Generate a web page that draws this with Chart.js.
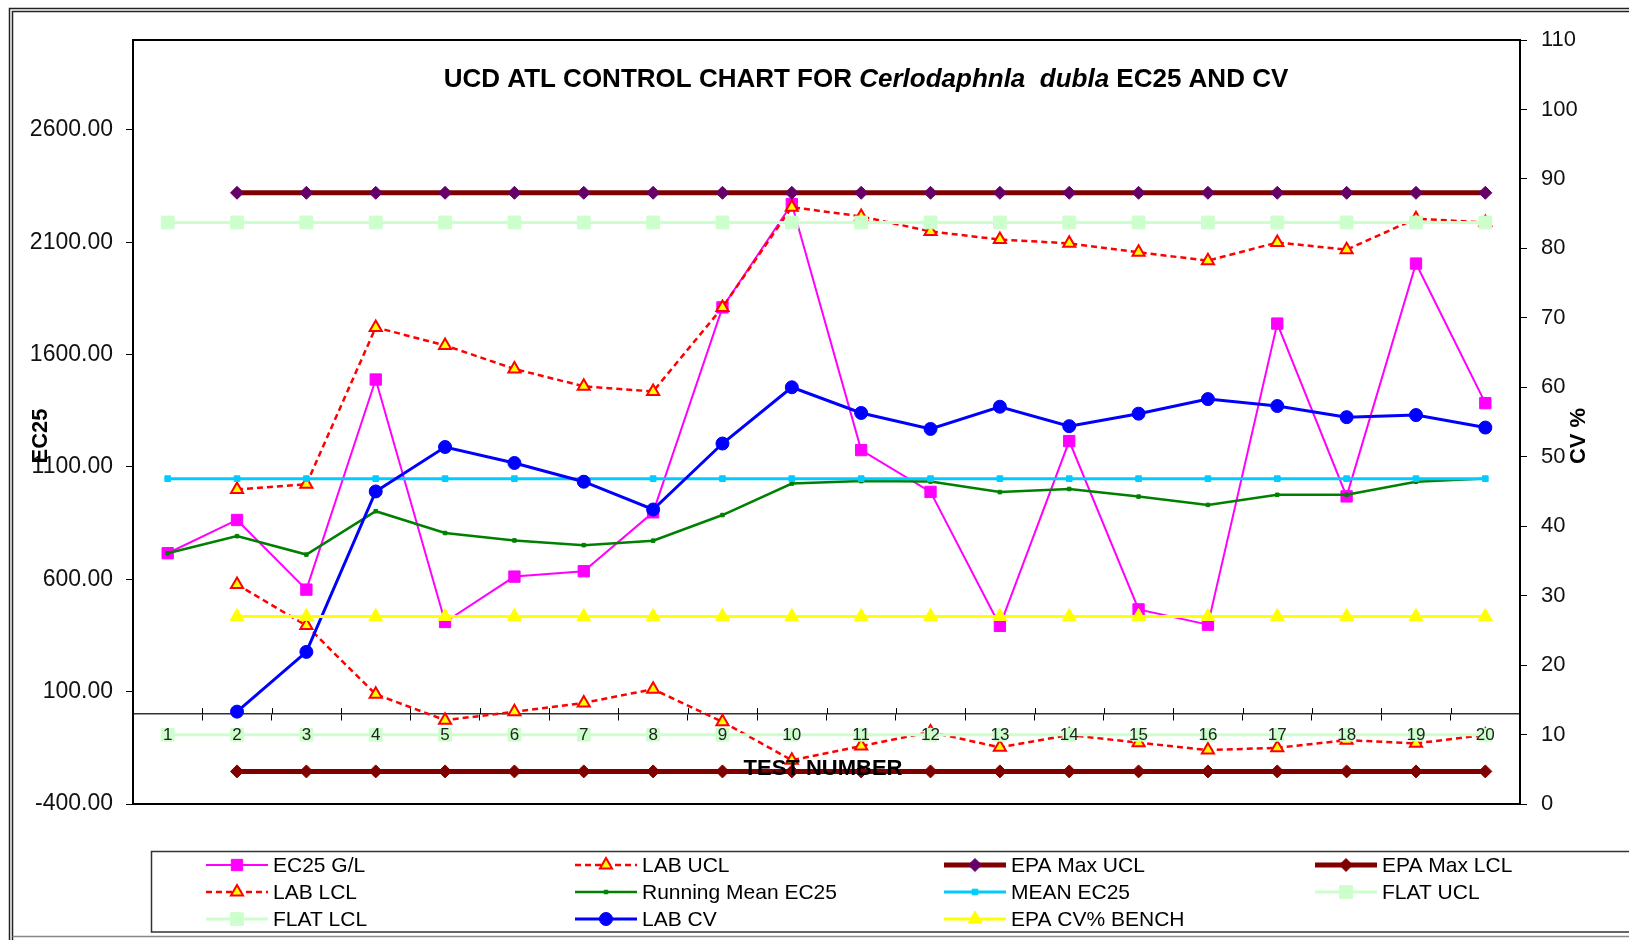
<!DOCTYPE html>
<html>
<head>
<meta charset="utf-8">
<title>UCD ATL Control Chart - Ceriodaphnia dubia EC25 and CV</title>
<script src="https://cdn.jsdelivr.net/npm/chart.js@4.4.0/dist/chart.umd.min.js"></script>
<style>
    html, body { margin: 0; padding: 0; background: #fff; }
    #wrap { position: relative; width: 1629px; height: 940px; }
</style>
</head>
<body>
<div id="wrap"><canvas id="chart"></canvas></div>
<script>
// Test numbers (x categories)
const testNumbers = ['1', '2', '3', '4', '5', '6', '7', '8', '9', '10',
                     '11', '12', '13', '14', '15', '16', '17', '18', '19', '20'];

// EC25 axis series (left axis)
const ec25 = [716, 864, 554, 1489, 410, 612, 636, 898, 1810, 2270,
              1175, 989, 393, 1215, 466, 398, 1738, 969, 2005, 1384];
const labUcl = [null, 1000, 1023, 1721, 1641, 1536, 1459, 1436, 1810, 2256,
                2215, 2148, 2112, 2095, 2055, 2018, 2099, 2067, 2205, 2188];
const labLcl = [null, 577, 394, 88, -27, 10, 50, 111, -34, -205,
                -142, -80, -148, -93, -127, -160, -150, -116, -130, -93];
const runningMean = [716, 792, 710, 903, 806, 773, 752, 772, 886, 1026,
                     1037, 1035, 988, 1002, 968, 931, 976, 976, 1034, 1048];
const meanEc25 = [1048, 1048, 1048, 1048, 1048, 1048, 1048, 1048, 1048, 1048,
                  1048, 1048, 1048, 1048, 1048, 1048, 1048, 1048, 1048, 1048];
const epaMaxUcl = [null, 2320, 2320, 2320, 2320, 2320, 2320, 2320, 2320, 2320,
                   2320, 2320, 2320, 2320, 2320, 2320, 2320, 2320, 2320, 2320];
const epaMaxLcl = [null, -255, -255, -255, -255, -255, -255, -255, -255, -255,
                   -255, -255, -255, -255, -255, -255, -255, -255, -255, -255];
const flatUcl = [2188, 2188, 2188, 2188, 2188, 2188, 2188, 2188, 2188, 2188,
                 2188, 2188, 2188, 2188, 2188, 2188, 2188, 2188, 2188, 2188];
const flatLcl = [-92, -92, -92, -92, -92, -92, -92, -92, -92, -92,
                 -92, -92, -92, -92, -92, -92, -92, -92, -92, -92];

// CV % axis series (right axis)
const labCv = [null, 13.3, 21.9, 45.0, 51.4, 49.1, 46.4, 42.4, 51.9, 60.0,
               56.3, 54.0, 57.2, 54.4, 56.2, 58.3, 57.3, 55.7, 56.0, 54.2];
const epaCvBench = [null, 27, 27, 27, 27, 27, 27, 27, 27, 27,
                    27, 27, 27, 27, 27, 27, 27, 27, 27, 27];

// Tick values
const ec25Ticks = [-400, 100, 600, 1100, 1600, 2100, 2600];
const cvMin = 0, cvMax = 110, cvStep = 10;

const FONT = "'Liberation Sans', Arial, sans-serif";
Chart.defaults.font.family = FONT;
Chart.defaults.color = '#111';

function lineSet(label, data, opts) {
    return Object.assign({
        label: label,
        data: data,
        yAxisID: 'y',
        fill: false,
        tension: 0,
        pointBorderWidth: 1
    }, opts);
}

const datasets = [
    lineSet('EC25 G/L', ec25, {
        borderColor: '#ff00ff', borderWidth: 2,
        pointStyle: 'rect', pointRadius: 8,
        pointBackgroundColor: '#ff00ff', pointBorderColor: '#ff00ff'
    }),
    lineSet('LAB UCL', labUcl, {
        borderColor: '#ff0000', borderWidth: 2.5, borderDash: [6, 4],
        pointStyle: 'triangle', pointRadius: 7,
        pointBackgroundColor: '#ffff00', pointBorderColor: '#ff0000', pointBorderWidth: 2
    }),
    lineSet('EPA Max UCL', epaMaxUcl, {
        borderColor: '#800000', borderWidth: 5,
        pointStyle: 'rectRot', pointRadius: 6.5,
        pointBackgroundColor: '#660066', pointBorderColor: '#660066'
    }),
    lineSet('EPA Max LCL', epaMaxLcl, {
        borderColor: '#800000', borderWidth: 5,
        pointStyle: 'rectRot', pointRadius: 6.5,
        pointBackgroundColor: '#800000', pointBorderColor: '#800000'
    }),
    lineSet('LAB LCL', labLcl, {
        borderColor: '#ff0000', borderWidth: 2.5, borderDash: [6, 4],
        pointStyle: 'triangle', pointRadius: 7,
        pointBackgroundColor: '#ffff00', pointBorderColor: '#ff0000', pointBorderWidth: 2
    }),
    lineSet('Running Mean EC25', runningMean, {
        borderColor: '#008000', borderWidth: 2.5,
        pointStyle: 'rect', pointRadius: 2.5,
        pointBackgroundColor: '#008000', pointBorderColor: '#008000'
    }),
    lineSet('MEAN EC25', meanEc25, {
        borderColor: '#00ccff', borderWidth: 3,
        pointStyle: 'rect', pointRadius: 4,
        pointBackgroundColor: '#00ccff', pointBorderColor: '#00ccff'
    }),
    lineSet('FLAT UCL', flatUcl, {
        borderColor: '#ccffcc', borderWidth: 3,
        pointStyle: 'rect', pointRadius: 9,
        pointBackgroundColor: '#ccffcc', pointBorderColor: '#ccffcc'
    }),
    lineSet('FLAT LCL', flatLcl, {
        borderColor: '#ccffcc', borderWidth: 3,
        pointStyle: 'rect', pointRadius: 9,
        pointBackgroundColor: '#ccffcc', pointBorderColor: '#ccffcc'
    }),
    lineSet('LAB CV', labCv, {
        yAxisID: 'y1',
        borderColor: '#0000ff', borderWidth: 3,
        pointStyle: 'circle', pointRadius: 6.5,
        pointBackgroundColor: '#0000ff', pointBorderColor: '#0000ff'
    }),
    lineSet('EPA CV% BENCH', epaCvBench, {
        yAxisID: 'y1',
        borderColor: '#ffff00', borderWidth: 3,
        pointStyle: 'triangle', pointRadius: 8,
        pointBackgroundColor: '#ffff00', pointBorderColor: '#ffff00'
    })
];
// later series are drawn on top, like the original
datasets.forEach((ds, i) => { ds.order = datasets.length - i; });

// Legend layout (4 columns, row-major)
const legendCols = [206, 575, 944, 1315];
const legendRows = [865, 892, 919];

function drawMarker(ctx, ds, x, y) {
    ctx.save();
    ctx.setLineDash([]);
    ctx.fillStyle = ds.pointBackgroundColor;
    ctx.strokeStyle = ds.pointBorderColor;
    ctx.lineWidth = ds.pointBorderWidth;
    Chart.helpers.drawPoint(ctx, {
        pointStyle: ds.pointStyle,
        radius: ds.pointRadius,
        rotation: 0,
        borderWidth: ds.pointBorderWidth
    }, x, y);
    ctx.restore();
}

const decorPlugin = {
    id: 'decor',
    beforeDraw(chart) {
        const ctx = chart.ctx;
        ctx.save();
        ctx.fillStyle = '#fff';
        ctx.fillRect(0, 0, chart.width, chart.height);
        // outer double border
        ctx.strokeStyle = '#222';
        ctx.lineWidth = 1.5;
        ctx.beginPath();
        ctx.moveTo(9.5, 940); ctx.lineTo(9.5, 8.5); ctx.lineTo(1629, 8.5);
        ctx.moveTo(12.5, 940); ctx.lineTo(12.5, 11.5); ctx.lineTo(1629, 11.5);
        ctx.stroke();
        ctx.strokeStyle = '#888';
        ctx.beginPath();
        ctx.moveTo(12.5, 936.5); ctx.lineTo(1629, 936.5);
        ctx.stroke();
        ctx.restore();
    },
    beforeDatasetsDraw(chart) {
        const {ctx, chartArea: a} = chart;
        ctx.save();
        ctx.strokeStyle = '#000';
        ctx.lineWidth = 2;
        ctx.strokeRect(a.left, a.top, a.right - a.left, a.bottom - a.top);
        // upper half of the category tick marks (they cross the axis line)
        const xs = chart.scales.x;
        const y0 = chart.scales.y.getPixelForValue(0);
        const band = (a.right - a.left) / testNumbers.length;
        ctx.lineWidth = 1;
        ctx.beginPath();
        for (let i = 1; i < testNumbers.length; i++) {
            const px = Math.round(xs.left + i * band) + 0.5;
            ctx.moveTo(px, y0);
            ctx.lineTo(px, y0 - 6);
        }
        ctx.stroke();
        ctx.restore();
    },
    afterDatasetsDraw(chart) {
        const ctx = chart.ctx;
        ctx.save();
        ctx.fillStyle = '#000';
        ctx.font = 'bold 22px ' + FONT;
        ctx.textAlign = 'center';
        ctx.textBaseline = 'middle';
        ctx.fillText('TEST NUMBER', 823, 769);
        ctx.restore();
    },
    afterDraw(chart) {
        const ctx = chart.ctx;
        ctx.save();

        // title with italic species name
        const parts = [
            {text: 'UCD ATL CONTROL CHART FOR ', font: 'bold 26px ' + FONT},
            {text: 'Cerlodaphnla  dubla', font: 'italic bold 26px ' + FONT},
            {text: ' EC25 AND CV', font: 'bold 26px ' + FONT}
        ];
        let total = 0;
        parts.forEach(p => { ctx.font = p.font; p.w = ctx.measureText(p.text).width; total += p.w; });
        let tx = 866 - total / 2;
        ctx.fillStyle = '#000';
        ctx.textBaseline = 'alphabetic';
        ctx.textAlign = 'left';
        parts.forEach(p => { ctx.font = p.font; ctx.fillText(p.text, tx, 87); tx += p.w; });

        // axis titles
        ctx.font = 'bold 22px ' + FONT;
        ctx.textAlign = 'center';
        ctx.textBaseline = 'middle';
        ctx.save();
        ctx.translate(41, 436);
        ctx.rotate(-Math.PI / 2);
        ctx.fillText('EC25', 0, 0);
        ctx.restore();
        ctx.save();
        ctx.translate(1579, 436);
        ctx.rotate(-Math.PI / 2);
        ctx.fillText('CV %', 0, 0);
        ctx.restore();

        // legend box
        ctx.strokeStyle = '#333';
        ctx.lineWidth = 1.5;
        ctx.strokeRect(151.5, 851.5, 1500, 80.5);

        // legend entries
        ctx.font = '21px ' + FONT;
        ctx.textAlign = 'left';
        ctx.textBaseline = 'middle';
        chart.data.datasets.forEach((ds, i) => {
            const x = legendCols[i % 4];
            const y = legendRows[Math.floor(i / 4)];
            ctx.save();
            ctx.strokeStyle = ds.borderColor;
            ctx.lineWidth = ds.borderWidth;
            ctx.setLineDash(ds.borderDash || []);
            ctx.beginPath();
            ctx.moveTo(x, y);
            ctx.lineTo(x + 62, y);
            ctx.stroke();
            ctx.restore();
            drawMarker(ctx, ds, x + 31, y);
            ctx.fillStyle = '#000';
            ctx.fillText(ds.label, x + 67, y + 1);
        });
        ctx.restore();
    }
};

new Chart(document.getElementById('chart'), {
    type: 'line',
    data: {
        labels: testNumbers,
        datasets: datasets
    },
    options: {
        responsive: true,
        maintainAspectRatio: false,
        animation: false,
        devicePixelRatio: 1,
        layout: {
            padding: { left: 0, right: 0, top: 40, bottom: 136 }
        },
        plugins: {
            legend: { display: false },
            title: { display: false },
            tooltip: { enabled: false }
        },
        scales: {
            x: {
                type: 'category',
                offset: true,
                position: { y: 0 },
                grid: {
                    display: true,
                    drawOnChartArea: false,
                    drawTicks: true,
                    tickLength: 6,
                    offset: true,
                    color: '#000'
                },
                border: { display: true, color: '#333', width: 1.5 },
                ticks: {
                    font: { size: 17 },
                    color: '#222',
                    padding: 5,
                    z: 1,
                    maxRotation: 0,
                    autoSkip: false
                }
            },
            y: {
                position: 'left',
                min: -400,
                max: 3000,
                afterBuildTicks(scale) {
                    scale.ticks = ec25Ticks.map(v => ({ value: v }));
                },
                afterFit(scale) { scale.width = 133; },
                grid: {
                    display: true,
                    drawOnChartArea: false,
                    tickLength: 7,
                    color: '#000'
                },
                border: { display: true, color: '#000', width: 2 },
                ticks: {
                    font: { size: 23 },
                    color: '#111',
                    padding: 13,
                    callback: v => Number(v).toFixed(2)
                }
            },
            y1: {
                position: 'right',
                min: cvMin,
                max: cvMax,
                afterFit(scale) { scale.width = 109; },
                grid: {
                    display: true,
                    drawOnChartArea: false,
                    tickLength: 7,
                    color: '#000'
                },
                border: { display: true, color: '#000', width: 1.5 },
                ticks: {
                    stepSize: cvStep,
                    font: { size: 22 },
                    color: '#111',
                    padding: 14
                }
            }
        }
    },
    plugins: [decorPlugin]
});
</script>
</body>
</html>
